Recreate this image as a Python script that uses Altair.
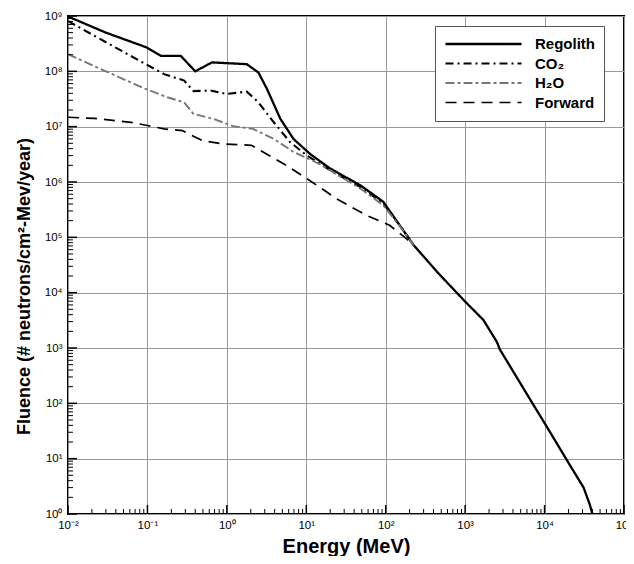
import altair as alt
import pandas as pd

series_names = ["Regolith", "CO₂", "H₂O", "Forward"]

regolith_E = [0.01, 0.030, 0.098, 0.148, 0.263, 0.40, 0.65, 1.78, 2.5, 3.2, 4.7, 6.9, 11.2,
              20, 48, 93, 150, 225, 440, 1000, 1700, 2500, 2750, 7200, 10200, 19000,
              31000, 37000, 40000]
regolith_F = [9.8e8, 5.0e8, 2.7e8, 1.9e8, 1.9e8, 1.0e8, 1.45e8, 1.35e8, 9.5e7, 4.8e7, 1.4e7,
              6.0e6, 3.2e6, 1.75e6, 8.7e5, 4.4e5, 1.65e5, 7.2e4, 2.4e4, 6.9e3, 3.2e3,
              1.3e3, 930, 95, 42, 9.5, 3.0, 1.5, 1.0]

co2_E = [0.01, 0.0234, 0.095, 0.162, 0.29, 0.38, 0.62, 1.0, 1.78, 2.5, 3.9, 6.3, 10.2,
         22, 48, 93, 150, 225]
co2_F = [8.1e8, 4.1e8, 1.35e8, 8.9e7, 6.8e7, 4.4e7, 4.5e7, 3.9e7, 4.3e7, 2.75e7, 1.2e7,
         5.2e6, 3.0e6, 1.5e6, 8.1e5, 4.1e5, 1.65e5, 7.2e4]

h2o_E = [0.01, 0.029, 0.095, 0.178, 0.29, 0.38, 0.68, 1.2, 2.14, 3.9, 6.9, 14.8, 20,
         48, 93, 150, 225]
h2o_F = [2.05e8, 1.02e8, 4.8e7, 3.4e7, 2.75e7, 1.7e7, 1.38e7, 1.02e7, 9.1e6, 6.0e6,
         3.5e6, 2.1e6, 1.62e6, 7.6e5, 3.8e5, 1.6e5, 7.2e4]

forward_E = [0.01, 0.0214, 0.062, 0.1, 0.162, 0.275, 0.49, 0.87, 2.04, 3.16, 5.6, 10.2,
             24, 57, 112, 182, 225]
forward_F = [1.48e7, 1.41e7, 1.2e7, 1.05e7, 9.1e6, 8.5e6, 5.6e6, 4.9e6, 4.6e6, 3.2e6,
             2.0e6, 1.15e6, 5.0e5, 2.5e5, 1.65e5, 9.5e4, 7.2e4]

x_major = [0.01, 0.1, 1, 10, 100, 1000, 10000, 100000]
y_major = [1, 10, 100, 1e3, 1e4, 1e5, 1e6, 1e7, 1e8, 1e9]
x_minor = [m * d for d in [0.01, 0.1, 1, 10, 100, 1000, 10000] for m in range(2, 10)]
y_minor = [m * d for d in [1, 10, 100, 1e3, 1e4, 1e5, 1e6, 1e7, 1e8] for m in range(2, 10)]

rows = []
for name, E, F in zip(series_names, [regolith_E, co2_E, h2o_E, forward_E],
                      [regolith_F, co2_F, h2o_F, forward_F]):
    for i, (e, f) in enumerate(zip(E, F)):
        rows.append({"series": name, "energy": e, "fluence": f, "idx": i})
df = pd.DataFrame(rows)

W, H = 556, 498
TOP = 8
xscale = alt.Scale(type="log", domain=[0.01, 1e5], nice=False)
yscale = alt.Scale(type="log", domain=[1, 1e9], nice=False)

x_lab = "['10⁻²','10⁻¹','10⁰','10¹','10²','10³','10⁴','10⁵'][round(log(datum.value)/LN10)+2]"
y_lab = "['10⁰','10¹','10²','10³','10⁴','10⁵','10⁶','10⁷','10⁸','10⁹'][round(log(datum.value)/LN10)]"

x_axis = alt.Axis(values=x_major, labelExpr=x_lab, grid=True, ticks=False,
                  domain=False, labelFlush=False, labelOverlap=False,
                  labelFontSize=11.5, labelPadding=5, title="Energy (MeV)",
                  titleFontSize=20, titleFontWeight="bold", titleY=38,
                  titleBaseline="alphabetic", titleAlign="center")
y_axis = alt.Axis(values=y_major, labelExpr=y_lab, grid=True, ticks=False,
                  domain=False, labelFlush=False, labelOverlap=False,
                  labelFontSize=11.5, labelPadding=6,
                  title="Fluence (# neutrons/cm²-Mev/year)",
                  titleFontSize=18, titleFontWeight="bold", titleX=-44,
                  titleY=H / 2 + 21, titleBaseline="middle", titleAlign="center",
                  titleAngle=270)

legend = alt.Legend(title=None, orient="none", legendX=367, legendY=10,
                    symbolType="stroke", symbolSize=5776, clipHeight=18, rowPadding=1.5,
                    labelFontSize=15, labelFontWeight="bold", labelFont="Liberation Sans",
                    labelColor="black", labelOffset=12, padding=9, strokeColor="#555",
                    fillColor="white", symbolStrokeWidth=2)

lines = alt.Chart(df).mark_line(clip=True).encode(
    x=alt.X("energy:Q", scale=xscale, axis=x_axis),
    y=alt.Y("fluence:Q", scale=yscale, axis=y_axis),
    color=alt.Color("series:N", scale=alt.Scale(domain=series_names,
                    range=["black", "black", "#777777", "black"]), legend=legend),
    strokeDash=alt.StrokeDash("series:N", scale=alt.Scale(domain=series_names,
                              range=[[1, 0], [8, 4, 2, 4], [9, 3, 3, 3], [11, 7]]),
                              legend=legend),
    strokeWidth=alt.StrokeWidth("series:N", scale=alt.Scale(domain=series_names,
                                range=[2.3, 1.7, 1.7, 1.7]), legend=None),
    detail="series:N",
    order="idx:Q",
)

xmaj_df = pd.DataFrame({"energy": x_major})
ymaj_df = pd.DataFrame({"fluence": y_major})
xmin_df = pd.DataFrame({"energy": x_minor})
ymin_df = pd.DataFrame({"fluence": y_minor})

xt_major = alt.Chart(xmaj_df).mark_rule(color="black", strokeWidth=1.5).encode(
    x=alt.X("energy:Q", scale=xscale, axis=x_axis), y=alt.value(H), y2=alt.value(H - 9))
xt_minor = alt.Chart(xmin_df).mark_rule(color="black", strokeWidth=1).encode(
    x=alt.X("energy:Q", scale=xscale, axis=x_axis), y=alt.value(H), y2=alt.value(H - 5))
yt_major = alt.Chart(ymaj_df).mark_rule(color="black", strokeWidth=1.5).encode(
    y=alt.Y("fluence:Q", scale=yscale, axis=y_axis), x=alt.value(0), x2=alt.value(9))
yt_minor = alt.Chart(ymin_df).mark_rule(color="black", strokeWidth=1).encode(
    y=alt.Y("fluence:Q", scale=yscale, axis=y_axis), x=alt.value(0), x2=alt.value(5))

chart = alt.layer(lines, xt_major, xt_minor, yt_major, yt_minor).properties(
    width=W, height=H,
    padding={"left": 60, "top": TOP, "right": 2, "bottom": 548 - TOP - H},
    autosize=alt.AutoSizeParams(type="none"),
    background="white",
).configure_view(stroke="black", strokeWidth=2).configure_axis(
    gridColor="#999999", gridWidth=1, gridOpacity=1,
    labelFont="Liberation Sans", titleFont="Liberation Sans",
    labelColor="black", titleColor="black",
)

chart.save("out.html", embed_options={"renderer": "svg", "actions": False})
